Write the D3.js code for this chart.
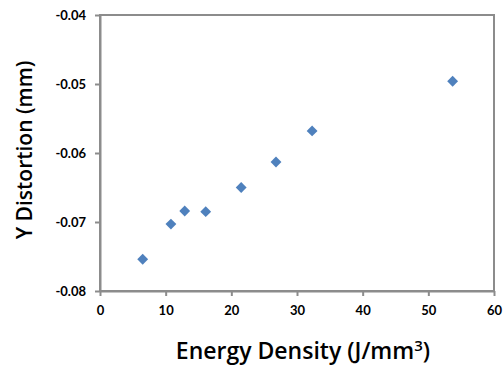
<!DOCTYPE html>
<html>
<head>
<meta charset="utf-8">
<script src="https://cdn.jsdelivr.net/npm/d3@7"></script>
<style>
  body { margin: 0; background: #fff; }
  svg text { font-family: Lato, "Open Sans", sans-serif; }
  svg text.title { font-family: "Open Sans", sans-serif; }
</style>
</head>
<body>
<div id="chart"></div>
<script>
// values
const energyDensity = [6.5, 10.8, 12.9, 16.1, 21.5, 26.8, 32.3, 53.7];
const yDistortion = [-0.0754, -0.0703, -0.0684, -0.0685, -0.0650, -0.0613, -0.0568, -0.0496];
const xTicks = [0, 10, 20, 30, 40, 50, 60];
const yTicks = [-0.04, -0.05, -0.06, -0.07, -0.08];

const width = 503, height = 366;
const margin = {top: 15, right: 9, bottom: 75, left: 100};

const svg = d3.select("#chart")
  .append("svg")
  .attr("width", width)
  .attr("height", height);

const x = d3.scaleLinear()
  .domain([0, 60])
  .range([margin.left, width - margin.right]);

const y = d3.scaleLinear()
  .domain([-0.08, -0.04])
  .range([height - margin.bottom, margin.top]);

const axisColor = "#8c8c8c";

// plot frame (top and right)
svg.append("rect")
  .attr("x", x(0))
  .attr("y", y(-0.04))
  .attr("width", x(60) - x(0))
  .attr("height", y(-0.08) - y(-0.04))
  .attr("fill", "none")
  .attr("stroke", axisColor)
  .attr("stroke-width", 2);

// x axis
const xAxis = svg.append("g")
  .attr("transform", `translate(0, ${y(-0.08)})`)
  .call(d3.axisBottom(x).tickValues(xTicks).tickSize(5).tickSizeOuter(0).tickPadding(10));

// y axis - plain hyphen like the original, not the unicode minus
const yAxis = svg.append("g")
  .attr("transform", `translate(${x(0)}, 0)`)
  .call(d3.axisLeft(y).tickValues(yTicks).tickSize(5).tickSizeOuter(0).tickPadding(9)
    .tickFormat(d => d.toFixed(2)));

[xAxis, yAxis].forEach(g => {
  g.select(".domain").attr("stroke", axisColor).attr("stroke-width", 2);
  g.selectAll(".tick line").attr("stroke", axisColor).attr("stroke-width", 2);
  g.selectAll(".tick text")
    .attr("fill", "#000")
    .style("font-size", "13px")
    .style("font-weight", "bold");
});

// markers
svg.selectAll("path.pt")
  .data(energyDensity)
  .join("path")
  .attr("class", "pt")
  .attr("d", d3.symbol().type(d3.symbolDiamond2).size(75))
  .attr("transform", (d, i) => `translate(${x(d)}, ${y(yDistortion[i])})`)
  .attr("fill", "#4f81bd");

// axis titles
const xTitle = svg.append("text")
  .attr("class", "title")
  .attr("x", 303)
  .attr("y", 359)
  .attr("text-anchor", "middle")
  .style("font-size", "23px")
  .style("font-weight", "600")
  .attr("fill", "#000");
xTitle.append("tspan").text("Energy Density (J/mm");
xTitle.append("tspan").attr("dy", -8).style("font-size", "15px").text("3");
xTitle.append("tspan").attr("dy", 8).text(")");

svg.append("text")
  .attr("class", "title")
  .attr("transform", `translate(32, 150) rotate(-90)`)
  .attr("text-anchor", "middle")
  .style("font-size", "21px")
  .style("font-weight", "600")
  .attr("fill", "#000")
  .text("Y Distortion (mm)");
</script>
</body>
</html>
